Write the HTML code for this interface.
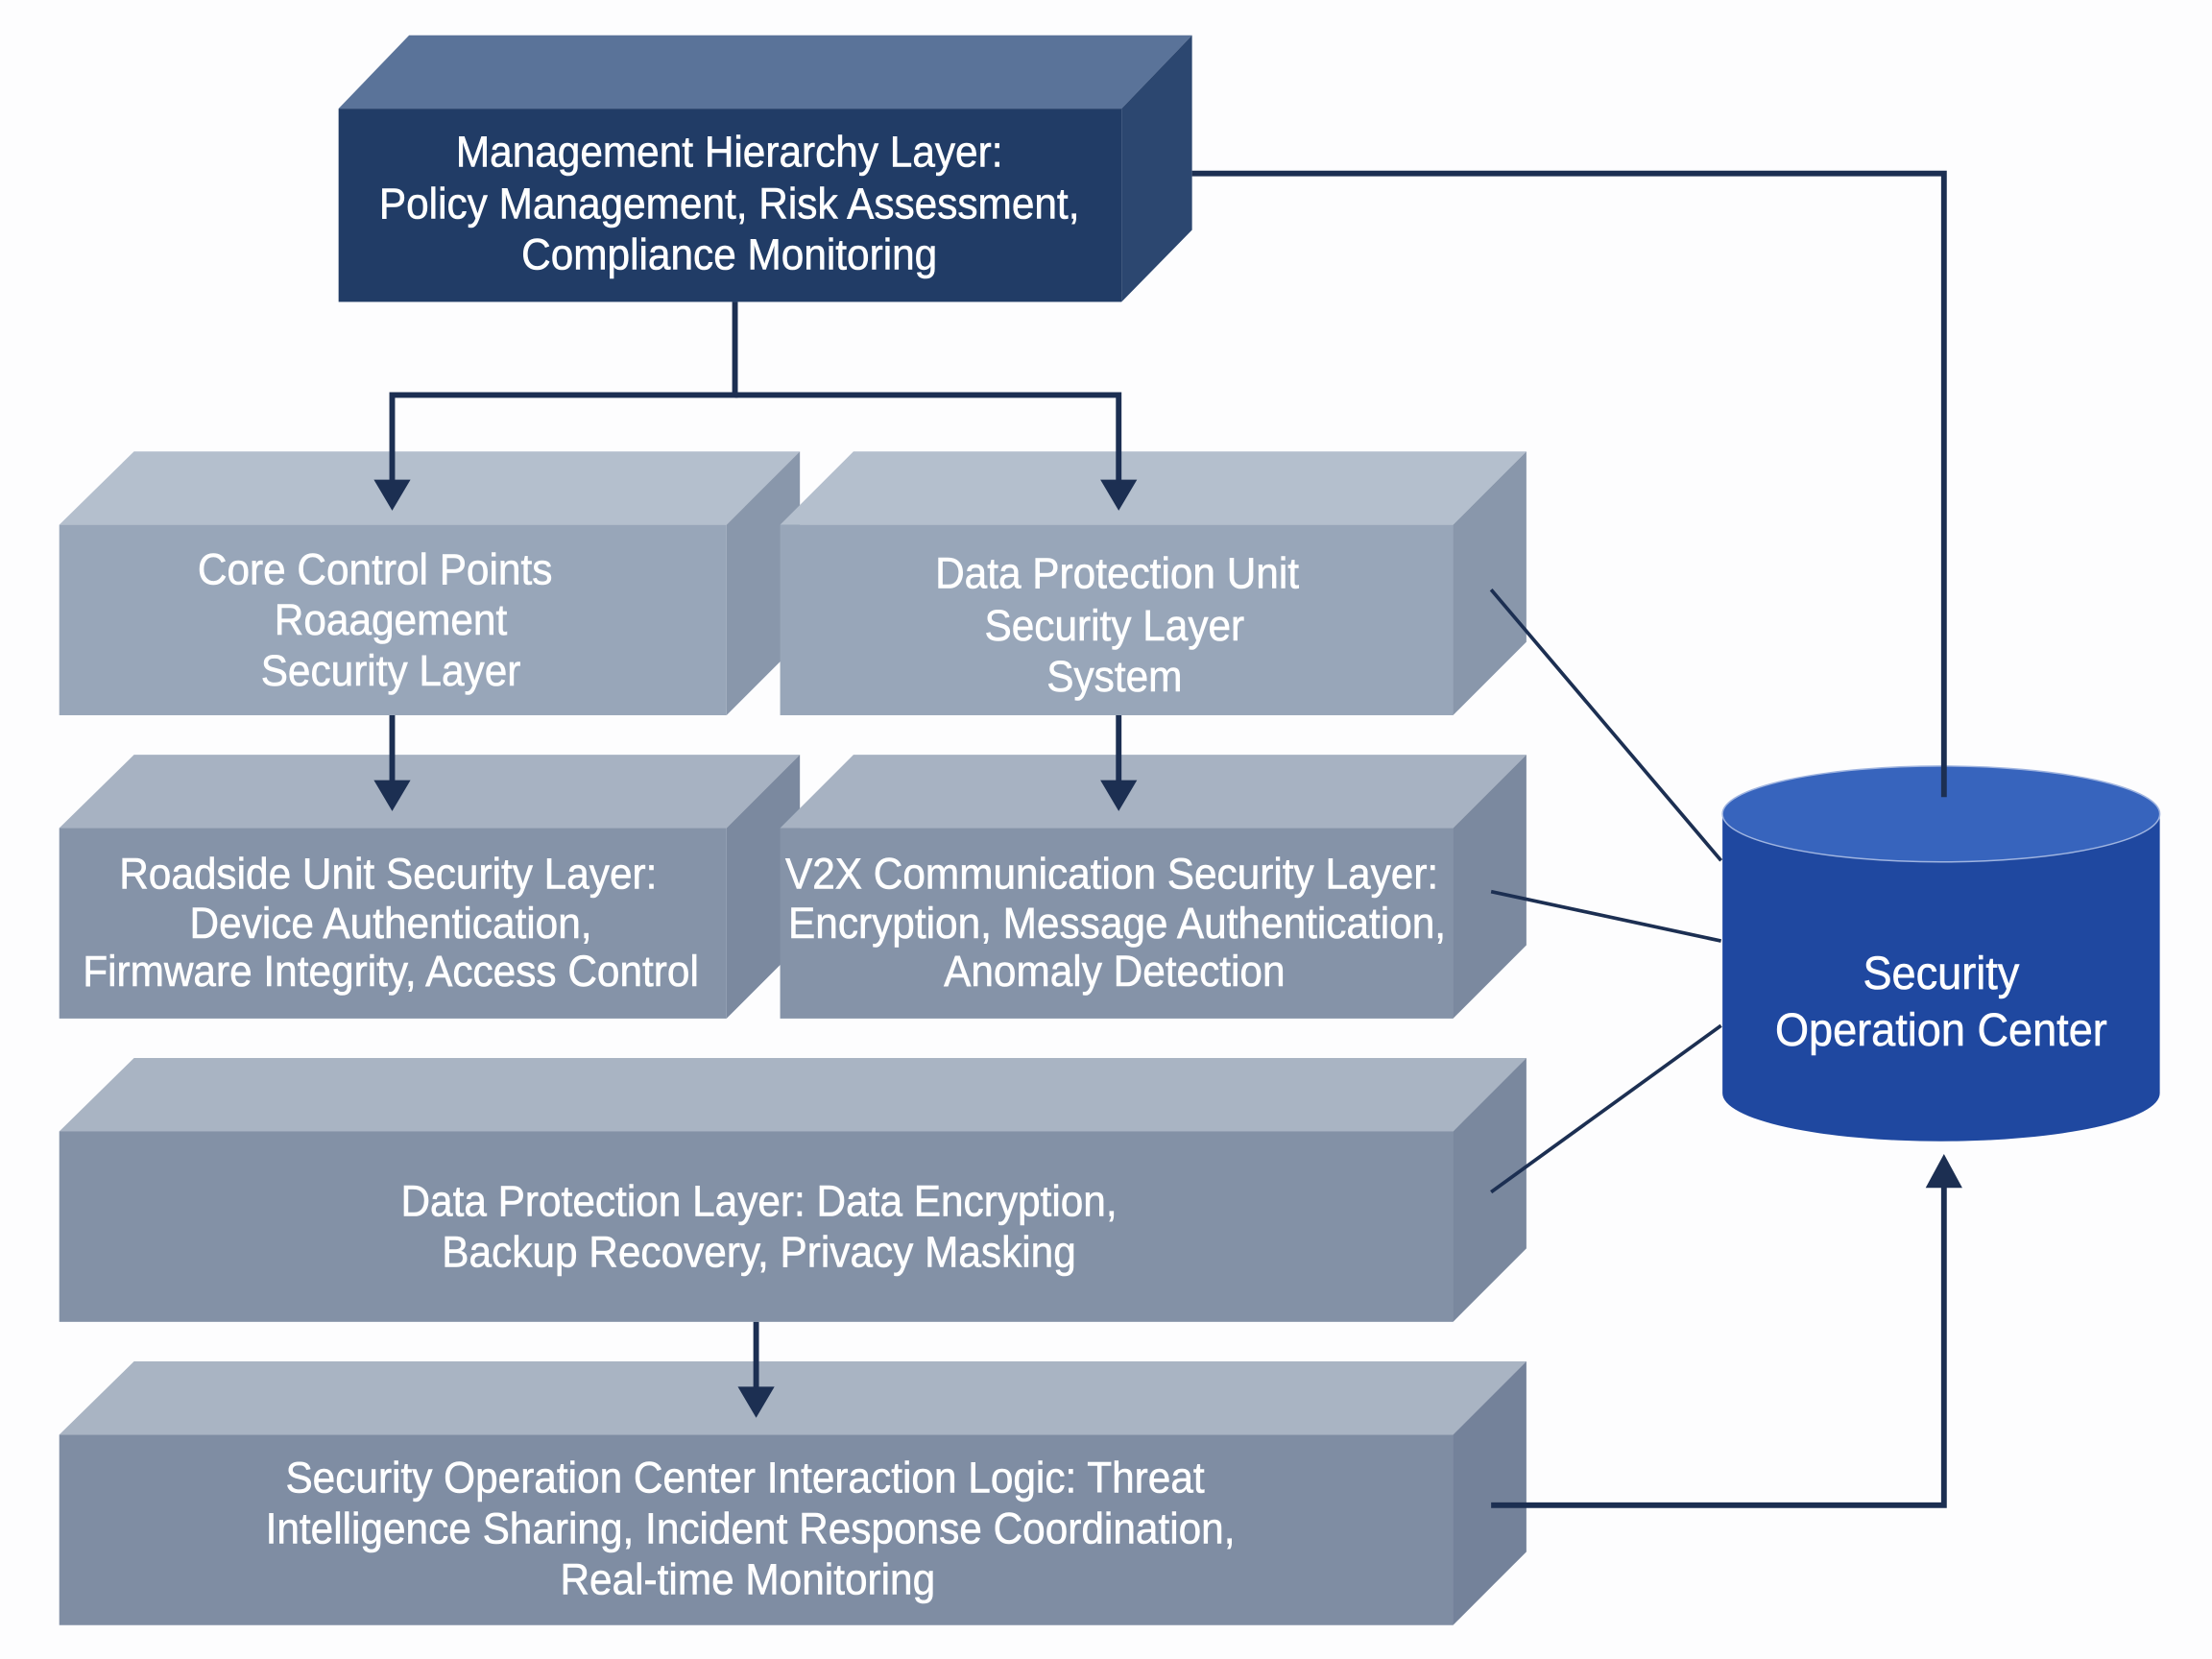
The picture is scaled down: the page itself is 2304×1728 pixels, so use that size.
<!DOCTYPE html>
<html><head><meta charset="utf-8"><style>
html,body{margin:0;padding:0;background:#fff;}
svg{display:block;}
text{font-family:"Liberation Sans",sans-serif;fill:#fff;text-anchor:middle;font-size:31px;stroke:#fff;stroke-width:0.4;}
</style></head><body>
<svg width="2304" height="1728" viewBox="0 0 1568 1176" xmlns="http://www.w3.org/2000/svg">
<rect width="1568" height="1176" fill="#fdfdfe"/>

<polygon points="240,77 290,25 845,25 795,77" fill="#5a7399"/>
<polygon points="795,77 845,25 845,163 795,214" fill="#2c4770"/>
<rect x="240" y="77" width="555" height="137" fill="#213c66"/>
<g transform="translate(517,0) scale(0.93,1)">
<text x="0" y="118">Management Hierarchy Layer:</text>
<text x="0" y="155">Policy Management, Risk Assessment,</text>
<text x="0" y="191">Compliance Monitoring</text>
</g>

<polygon points="42,372 95,320 567,320 515,372" fill="#b4bfcd"/>
<polygon points="515,372 567,320 567,455 515,507" fill="#8997ab"/>
<rect x="42" y="372" width="473" height="135" fill="#98a6b9"/>
<g transform="translate(277,0) scale(0.93,1)">
<text x="-12" y="414">Core Control Points</text>
<text x="0" y="450">Roaagement</text>
<text x="0" y="486">Security Layer</text>
</g>

<polygon points="553,372 605,320 1082,320 1030,372" fill="#b4bfcd"/>
<polygon points="1030,372 1082,320 1082,455 1030,507" fill="#8997ab"/>
<rect x="553" y="372" width="477" height="135" fill="#98a6b9"/>
<g transform="translate(790,0) scale(0.93,1)">
<text x="2" y="417">Data Protection Unit</text>
<text x="0" y="454">Security Layer</text>
<text x="0" y="490">System</text>
</g>

<polygon points="42,587 95,535 567,535 515,587" fill="#a7b2c2"/>
<polygon points="515,587 567,535 567,670 515,722" fill="#7b899f"/>
<rect x="42" y="587" width="473" height="135" fill="#8593a8"/>
<g transform="translate(277,0) scale(0.93,1)">
<text x="-2" y="630">Roadside Unit Security Layer:</text>
<text x="0" y="665">Device Authentication,</text>
<text x="0" y="699">Firmware Integrity, Access Control</text>
</g>

<polygon points="553,587 605,535 1082,535 1030,587" fill="#a7b2c2"/>
<polygon points="1030,587 1082,535 1082,670 1030,722" fill="#7b899f"/>
<rect x="553" y="587" width="477" height="135" fill="#8593a8"/>
<g transform="translate(790,0) scale(0.93,1)">
<text x="-2" y="630">V2X Communication Security Layer:</text>
<text x="2" y="665">Encryption, Message Authentication,</text>
<text x="0" y="699">Anomaly Detection</text>
</g>

<polygon points="42,802 95,750 1082,750 1030,802" fill="#a9b4c3"/>
<polygon points="1030,802 1082,750 1082,885 1030,937" fill="#7a889e"/>
<rect x="42" y="802" width="988" height="135" fill="#8391a6"/>
<g transform="translate(538,0) scale(0.93,1)">
<text x="0" y="862">Data Protection Layer: Data Encryption,</text>
<text x="0" y="898">Backup Recovery, Privacy Masking</text>
</g>

<polygon points="42,1017 95,965 1082,965 1030,1017" fill="#a9b4c3"/>
<polygon points="1030,1017 1082,965 1082,1100 1030,1152" fill="#74829a"/>
<rect x="42" y="1017" width="988" height="135" fill="#7f8da3"/>
<g transform="translate(530,0) scale(0.93,1)">
<text x="-2" y="1058">Security Operation Center Interaction Logic: Threat</text>
<text x="2" y="1094">Intelligence Sharing, Incident Response Coordination,</text>
<text x="0" y="1130">Real-time Monitoring</text>
</g>

<path d="M1221,577 L1221,775 A155,34 0 0 0 1531,775 L1531,577 Z" fill="#1f48a0"/>
<ellipse cx="1376" cy="577" rx="155" ry="34" fill="#3764bd" stroke="#9fb4e0" stroke-width="1"/>
<g transform="translate(1376,0) scale(0.93,1)">
<text x="0" y="701" style="font-size:33px">Security</text>
<text x="0" y="741" style="font-size:33px">Operation Center</text>
</g>

<g stroke="#1c2f52" stroke-width="4" fill="none">
<polyline points="521,214 521,280 278,280 278,345"/>
<polyline points="521,280 793,280 793,345"/>
<line x1="278" y1="507" x2="278" y2="560"/>
<line x1="793" y1="507" x2="793" y2="560"/>
<line x1="536" y1="937" x2="536" y2="990"/>
<polyline points="1057,1067 1378,1067 1378,835"/>
<polyline points="1378,565 1378,123 845,123"/>
</g>
<g stroke="#1c2f52" stroke-width="2.5">
<line x1="1057" y1="418" x2="1220" y2="610"/>
<line x1="1057" y1="632" x2="1220" y2="667"/>
<line x1="1057" y1="845" x2="1220" y2="727"/>
</g>
<g fill="#1c2f52">
<polygon points="265,340 291,340 278,362"/>
<polygon points="780,340 806,340 793,362"/>
<polygon points="265,553 291,553 278,575"/>
<polygon points="780,553 806,553 793,575"/>
<polygon points="523,983 549,983 536,1005"/>
<polygon points="1365,842 1391,842 1378,818"/>
</g>
</svg>
</body></html>
